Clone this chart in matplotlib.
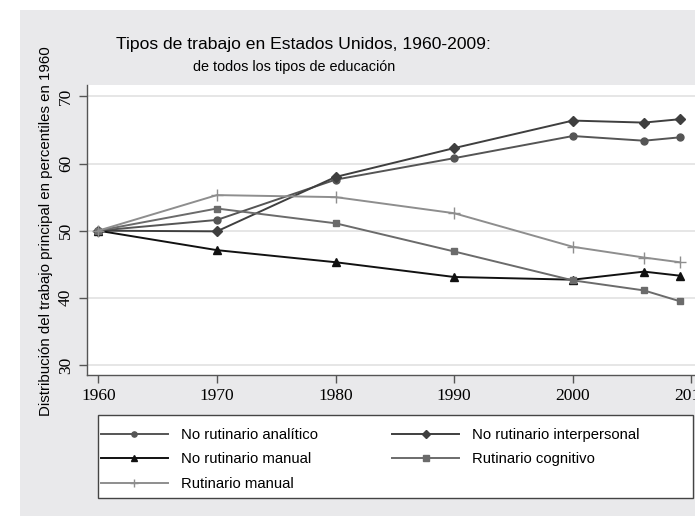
import matplotlib.pyplot as plt
from matplotlib.patches import Rectangle

years = [1960, 1970, 1980, 1990, 2000, 2006, 2009]
nr_analitico = [50.0, 51.6, 57.6, 60.8, 64.1, 63.4, 63.9]
nr_interpersonal = [50.0, 49.9, 58.0, 62.3, 66.4, 66.1, 66.6]
nr_manual = [50.0, 47.1, 45.3, 43.1, 42.7, 43.9, 43.3]
r_cognitivo = [50.0, 53.3, 51.1, 46.9, 42.6, 41.1, 39.5]
r_manual = [50.0, 55.3, 55.0, 52.6, 47.6, 46.0, 45.3]

labels = ['No rutinario analítico', 'No rutinario interpersonal',
          'No rutinario manual', 'Rutinario cognitivo', 'Rutinario manual']
xticks = [1960, 1970, 1980, 1990, 2000, 2010]
yticks = [30, 40, 50, 60, 70]

sans = ['Liberation Sans', 'DejaVu Sans']
serif = ['Liberation Serif', 'DejaVu Serif']

fig = plt.figure(figsize=(6.95, 5.16), dpi=100)
fig.patch.set_facecolor('white')
fig.add_artist(Rectangle((20 / 695, 0), 1, 1 - 10 / 516, transform=fig.transFigure,
                         facecolor='#e9e9eb', edgecolor='none', zorder=0))

ax = fig.add_axes([87 / 695, 1 - 375 / 516, 608 / 695, 290 / 516])
ax.set_facecolor('white')

series = [
    (nr_analitico, '#555555', 'o', 5),
    (nr_interpersonal, '#3f3f3f', 'D', 5),
    (nr_manual, '#111111', '^', 5.5),
    (r_cognitivo, '#6b6b6b', 's', 5),
    (r_manual, '#8e8e8e', '+', 8),
]
handles = []
for (vals, col, mk, ms), lab in zip(series, labels):
    h, = ax.plot(years, vals, color=col, marker=mk, markersize=ms, lw=1.4,
                 markeredgewidth=1.0, markeredgecolor=col, label=lab, zorder=3)
    handles.append(h)

ax.set_xlim(1959.05, 2010.3)
ax.set_ylim(28.5, 71.7)
ax.set_xticks(xticks)
ax.set_yticks(yticks)
ax.grid(axis='y', color='#e4e4e4', lw=1.3)
ax.grid(axis='x', visible=False)
ax.set_axisbelow(True)
for s in ['top', 'right']:
    ax.spines[s].set_visible(False)
for s in ['left', 'bottom']:
    ax.spines[s].set_color('#555555')
    ax.spines[s].set_linewidth(1.0)
ax.tick_params(axis='both', direction='out', length=6, color='#555555', width=1.0)
ax.tick_params(axis='y', labelrotation=90)
for t in ax.get_xticklabels() + ax.get_yticklabels():
    t.set_family(serif)
    t.set_fontsize(12.5)
for t in ax.get_yticklabels():
    t.set_va('center')

fig.text(46.5 / 695, 1 - 231 / 516, 'Distribución del trabajo principal en percentiles en 1960',
         rotation=90, ha='center', va='center', fontsize=10.8, family=sans)
fig.text(303 / 695, 1 - 45 / 516, 'Tipos de trabajo en Estados Unidos, 1960-2009:',
         ha='center', va='center', fontsize=12.6, family=sans)
fig.text(294 / 695, 1 - 67 / 516, 'de todos los tipos de educación',
         ha='center', va='center', fontsize=10.4, family=sans)

# legend frame drawn separately so it spans to the right edge
fig.add_artist(Rectangle((98 / 695, 1 - 498 / 516), 595 / 695, 83 / 516,
                         transform=fig.transFigure, facecolor='white',
                         edgecolor='#444444', lw=1.0, zorder=1))
order = [0, 2, 4, 1, 3]
leg = fig.legend([handles[i] for i in order], [labels[i] for i in order],
                 ncol=2, loc='upper left', bbox_to_anchor=(101 / 695, 1 - 428 / 516),
                 frameon=False, prop={'family': sans, 'size': 10.7}, markerscale=0.75,
                 handlelength=4.5, handletextpad=0.87, columnspacing=5.0,
                 labelspacing=0.7, borderaxespad=0, borderpad=0.0)
leg.set_zorder(2)

fig.savefig('out.png', dpi=100)
